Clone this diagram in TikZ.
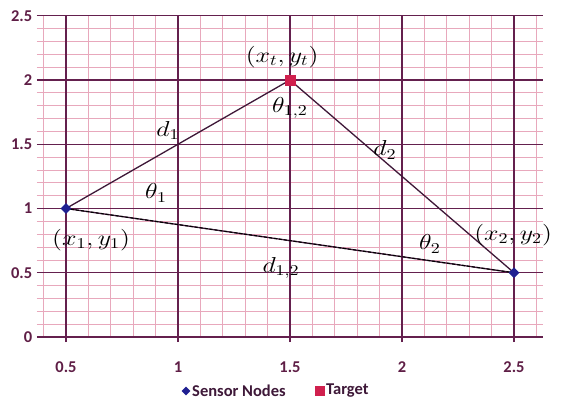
\documentclass[tikz,border=0pt]{standalone}
\usepackage{fontspec}
\newfontfamily\axisfont{Carlito}
\usetikzlibrary{shapes.geometric}

\definecolor{gridmajor}{RGB}{100,32,78}
\definecolor{gridminor}{RGB}{232,168,188}
\definecolor{ticktext}{RGB}{95,30,70}
\definecolor{edgecol}{RGB}{62,24,56}
\definecolor{sensorblue}{RGB}{32,32,145}
\definecolor{targetred}{RGB}{208,32,78}

\begin{document}
\begin{tikzpicture}[x=1pt, y=1pt,
  tick/.style={font=\axisfont\bfseries\fontsize{16.5}{16.5}\selectfont, text=ticktext, inner sep=0pt},
  lbl/.style={font=\Large, inner sep=0pt, xscale=1.8, yscale=1.5, transform shape},
  sensor/.style={diamond, fill=sensorblue, inner sep=0pt, minimum size=11pt},
  target/.style={rectangle, fill=targetred, inner sep=0pt, minimum size=11pt},
  edge/.style={edgecol, line width=1.3pt}]
  \useasboundingbox[fill=white] (0,-400) rectangle (561,0);

  \begin{scope}[shift={(-46,-337)}, x=224pt, y=128.5pt]
    % grid
    \foreach \i in {0,...,25}
      \draw[gridminor, line width=0.8pt] (0.37,\i/10) -- (2.63,\i/10);
    \foreach \i in {4,...,26}
      \draw[gridminor, line width=0.8pt] (\i/10,0) -- (\i/10,2.5);
    \foreach \v in {0,0.5,1,1.5,2,2.5} {
      \draw[gridmajor, line width=1.4pt] (0.37,\v) -- (2.63,\v);
      \node[tick, anchor=east] at (0.35,\v) {\v};
    }
    \foreach \u in {0.5,1,1.5,2,2.5} {
      \draw[gridmajor, line width=1.4pt] (\u,-0.04) -- (\u,2.5);
      \node[tick] at (\u,-0.235) {\u};
    }

    \coordinate (S1) at (0.5,1);
    \coordinate (S2) at (2.5,0.5);
    \coordinate (T) at (1.5,2);

    \draw[edge] (S1) -- (T);
    \draw[edge] (T) -- (S2);
    \draw[edge] (S1) -- (S2);
    \draw[black, line width=1.1pt, dash pattern=on 3pt off 2pt] (S1) -- (S2);

    \node[sensor] (s1) at (S1) {};
    \node[sensor] (s2) at (S2) {};
    \node[target] (tg) at (T) {};

    \node[lbl] at (1.465,2.18) {$(x_t,y_t)$};
    \node[lbl] at (1.5,1.78) {$\theta_{1,2}$};
    \node[lbl] at (0.955,1.61) {$d_1$};
    \node[lbl] at (1.924,1.455) {$d_2$};
    \node[lbl] at (0.902,1.121) {$\theta_1$};
    \node[lbl] at (0.612,0.755) {$(x_1,y_1)$};
    \node[lbl] at (1.46,0.537) {$d_{1,2}$};
    \node[lbl] at (2.125,0.724) {$\theta_2$};
    \node[lbl] at (2.496,0.794) {$(x_2,y_2)$};
  \end{scope}

  % legend
  \node[sensor, minimum size=9pt] (keys) at (186,-391) {};
  \node[tick, anchor=west, text=edgecol] (keyslbl) at (192,-391) {Sensor Nodes};
  \node[target, minimum size=10pt] (keyt) at (320,-391) {};
  \node[tick, anchor=west, text=edgecol] (keytlbl) at (326,-391) {Target};
\end{tikzpicture}
\end{document}
